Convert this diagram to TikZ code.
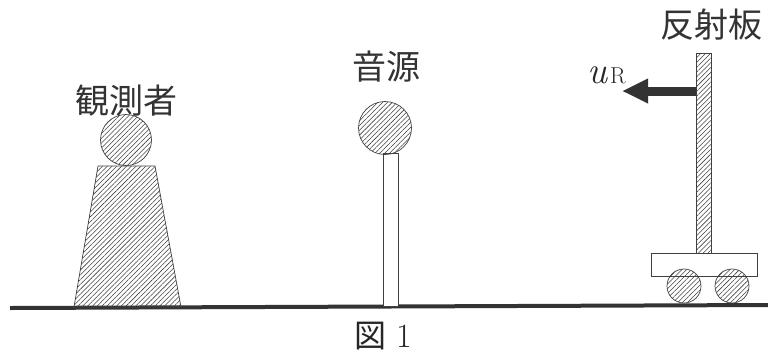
\documentclass[tikz,border=0pt]{standalone}
\usepackage{fontspec}
\newfontfamily\cjk{Noto Sans CJK JP}
\usetikzlibrary{patterns.meta,arrows.meta}
\begin{document}
\begin{tikzpicture}[x=1pt,y=-1pt,
  hatched/.style={draw=black!75,line width=0.7pt,
    pattern={Lines[angle=45,distance=3.4pt,line width=0.55pt]},pattern color=black!75},
  outline/.style={draw=black!75,line width=0.7pt,fill=white},
  label/.style={font=\cjk\fontsize{34}{36}\selectfont,text=black!80,inner sep=0pt}]
\useasboundingbox (0,0) rectangle (768,360);

% ground
\coordinate (gl) at (10,308);
\coordinate (gr) at (768,305);
\draw[line width=4pt,black!80] (gl) -- (gr);

% observer
\draw[hatched] (98,166) -- (155,166) -- (181,307) -- (74,307) -- cycle;
\node[hatched,circle,minimum size=51pt,inner sep=0pt] (head) at (126,140) {};
\node[label] (obs) at (126,101) {観測者};

% sound source
\draw[outline] (383,153) rectangle (398,306);
\node[hatched,circle,minimum size=53pt,inner sep=0pt] (src) at (385,128) {};
\node[label] (srclab) at (386,67) {音源};

% reflector on a cart
\node[hatched,rectangle,minimum width=15pt,minimum height=200pt,inner sep=0pt,anchor=north west] (plate) at (696,53) {};
\node[outline,rectangle,minimum width=106pt,minimum height=23pt,inner sep=0pt,anchor=north west] (cart) at (651,253) {};
\node[hatched,circle,minimum size=34pt,inner sep=0pt] (w1) at (684,286) {};
\node[hatched,circle,minimum size=34pt,inner sep=0pt] (w2) at (732,286) {};
\node[label] (reflab) at (711,25) {反射板};

% velocity arrow
\coordinate (tip) at (622,91);
\draw[line width=9pt,black!80,-{Triangle[length=26pt,width=23pt]}] (plate.west |- tip) -- (tip);
\node[text=black!85,inner sep=0pt,anchor=base west] (u) at (587,83)
  {{\fontsize{38}{40}\selectfont\itshape u}\kern3pt{\fontsize{23}{24}\selectfont R}};

% caption
\node[text=black!85,inner sep=0pt] (cap) at (383,336)
  {{\cjk\fontsize{32}{34}\selectfont 図}\kern10pt{\fontsize{34}{36}\selectfont 1}};
\end{tikzpicture}
\end{document}
